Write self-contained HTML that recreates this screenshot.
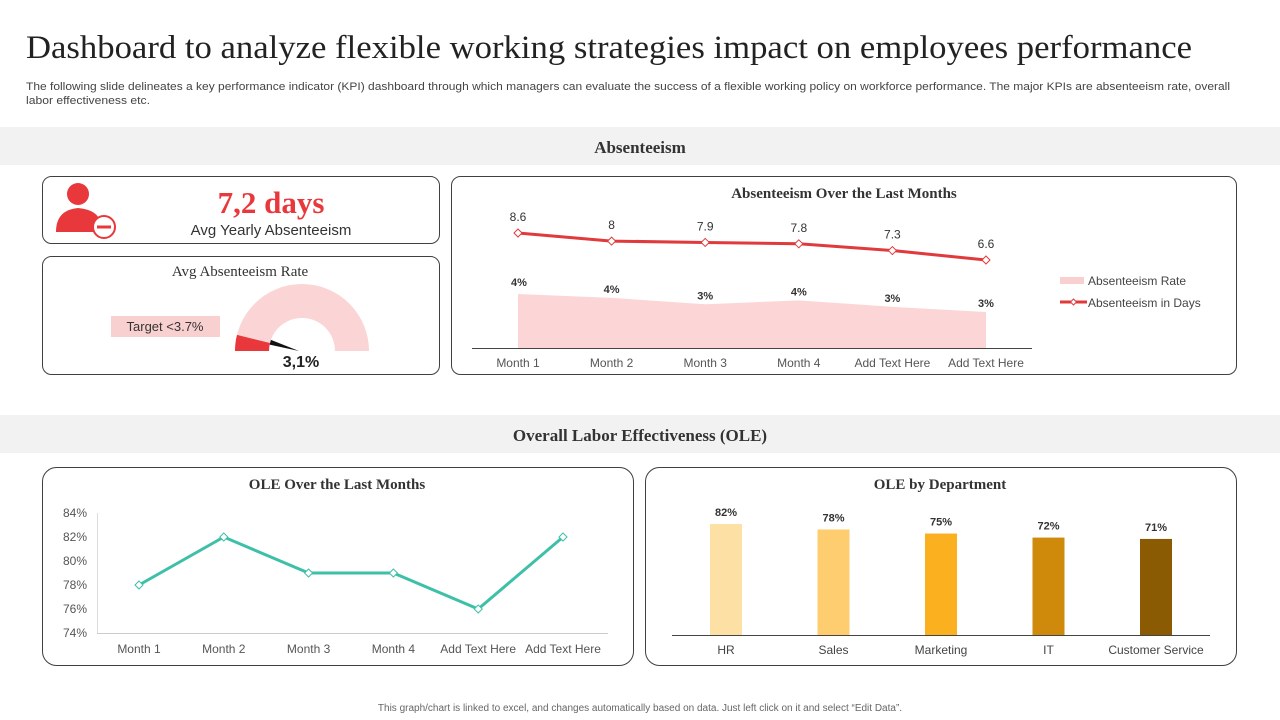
<!DOCTYPE html>
<html><head><meta charset="utf-8"><style>
body{margin:0;background:#fff;}
svg{display:block;font-family:"Liberation Sans",sans-serif;}
.serif{font-family:"Liberation Serif",serif;}
</style></head><body>
<svg id="s" width="1280" height="720" viewBox="0 0 1280 720">
<text class="serif" x="26" y="58" font-size="33" fill="#222" textLength="1166" lengthAdjust="spacingAndGlyphs">Dashboard to analyze flexible working strategies impact on employees performance</text>
<text x="26" y="90" font-size="11" fill="#444" textLength="1204" lengthAdjust="spacingAndGlyphs">The following slide delineates a key performance indicator (KPI) dashboard through which managers can evaluate the success of a flexible working policy on workforce performance. The major KPIs are absenteeism rate, overall</text>
<text x="26" y="104" font-size="11" fill="#444" textLength="124" lengthAdjust="spacingAndGlyphs">labor effectiveness etc.</text>
<rect x="0" y="127" width="1280" height="38" fill="#f2f2f2"/>
<text class="serif" x="640" y="153" font-size="17" font-weight="bold" fill="#333" text-anchor="middle">Absenteeism</text>
<rect x="0" y="415" width="1280" height="38" fill="#f2f2f2"/>
<text class="serif" x="640" y="441" font-size="17" font-weight="bold" fill="#333" text-anchor="middle">Overall Labor Effectiveness (OLE)</text>

<rect x="42.5" y="176.5" width="397" height="67" rx="9" fill="none" stroke="#404040"/>
<g fill="#e8383b">
<circle cx="78" cy="194" r="11"/>
<path d="M56 232 Q56 210 78 208 Q98 210 100 222 L100 232 Z"/>
<circle cx="104" cy="227" r="11" fill="#fff" stroke="#e8383b" stroke-width="2"/>
<rect x="97" y="225.5" width="14" height="3"/>
</g>
<text class="serif" x="271" y="213" font-size="31" font-weight="bold" fill="#e8383b" text-anchor="middle">7,2 days</text>
<text x="271" y="235" font-size="15" fill="#333" text-anchor="middle">Avg Yearly Absenteeism</text>

<rect x="42.5" y="256.5" width="397" height="118" rx="9" fill="none" stroke="#404040"/>
<text class="serif" x="240" y="276" font-size="15" fill="#333" text-anchor="middle">Avg Absenteeism  Rate</text>
<rect x="111" y="316" width="109" height="21" fill="#f9d0d0"/>
<text x="165" y="331" font-size="13" fill="#333" text-anchor="middle">Target  &lt;3.7%</text>
<g id="gauge"></g>
<text x="301" y="367" font-size="16" font-weight="bold" fill="#222" text-anchor="middle">3,1%</text>

<rect x="451.5" y="176.5" width="785" height="198" rx="9" fill="none" stroke="#404040"/>
<text class="serif" x="844" y="198" font-size="15" font-weight="bold" fill="#333" text-anchor="middle">Absenteeism Over the Last Months</text>
<g id="absChart"></g>
<rect x="1060" y="277" width="24" height="7" fill="#f9d0d0"/>
<text x="1088" y="285" font-size="12" fill="#444">Absenteeism Rate</text>
<line x1="1060" y1="302" x2="1087" y2="302" stroke="#e03a3c" stroke-width="3"/>
<path d="M1073.5 299 L1076.5 302 L1073.5 305 L1070.5 302Z" fill="#fff" stroke="#e03a3c"/>
<text x="1088" y="307" font-size="12" fill="#444">Absenteeism in Days</text>

<rect x="42.5" y="467.5" width="591" height="198" rx="14" fill="none" stroke="#404040"/>
<text class="serif" x="337" y="489" font-size="15" font-weight="bold" fill="#333" text-anchor="middle">OLE Over the Last Months</text>
<g id="oleChart"></g>

<rect x="645.5" y="467.5" width="591" height="198" rx="14" fill="none" stroke="#404040"/>
<text class="serif" x="940" y="489" font-size="15" font-weight="bold" fill="#333" text-anchor="middle">OLE by Department</text>
<g id="deptChart"></g>

<text x="640" y="711" font-size="10" fill="#666" text-anchor="middle">This graph/chart is linked to excel, and changes automatically based on data. Just left click on it and select “Edit Data”.</text>
</svg>
<script>
const absMonths=["Month 1","Month 2","Month 3","Month 4","Add Text Here","Add Text Here"];
const absRate=[4.2,3.9,3.4,3.7,3.2,2.8];
const absRateLabels=["4%","4%","3%","4%","3%","3%"];
const absDays=[8.6,8,7.9,7.8,7.3,6.6];
const oleMonths=["Month 1","Month 2","Month 3","Month 4","Add Text Here","Add Text Here"];
const oleValues=[78,82,79,79,76,82];
const oleTicks=[74,76,78,80,82,84];
const departments=["HR","Sales","Marketing","IT","Customer Service"];
const deptValues=[82,78,75,72,71];
const gaugeValue=3.1;

const NS="http://www.w3.org/2000/svg";
function mk(p,tag,a,txt){const e=document.createElementNS(NS,tag);for(const k in a)e.setAttribute(k,a[k]);if(txt!==undefined)e.textContent=txt;p.appendChild(e);return e;}

// gauge
(function(){
const g=document.getElementById('gauge');
const cx=302,cy=351,ro=67,ri=33;
function pt(r,a){return [cx-r*Math.cos(a),cy-r*Math.sin(a)];}
function arc(a0,a1){const p1=pt(ro,a0),p2=pt(ro,a1),p3=pt(ri,a1),p4=pt(ri,a0);const lg=(a1-a0)>Math.PI?1:0;
return `M${p1} A${ro} ${ro} 0 ${lg} 1 ${p2} L${p3} A${ri} ${ri} 0 ${lg} 0 ${p4}Z`;}
const frac=gaugeValue/40;
let e=mk(g,'path',{d:arc(0,Math.PI),fill:'#fbd5d5'});

const a=frac*Math.PI;
e=mk(g,'path',{d:arc(0,a),fill:'#e8383b'});

e=mk(g,'path',{d:`M${pt(ri,a+0.1)} L${pt(ri,a-0.05)} L${[cx-3,cy]} Z`,fill:'#111'});

})();

// absenteeism chart
(function(){
const g=document.getElementById('absChart');
const x=i=>518+i*93.6, base=348;
const yR=v=>base-v*12.86, yD=v=>233+(8.6-v)*13.5;
let d=`M${x(0)} ${base}`;absRate.forEach((v,i)=>d+=` L${x(i)} ${yR(v)}`);d+=` L${x(absRate.length-1)} ${base}Z`;
let e=mk(g,'path',{d,fill:'#fcd6d6'});

e=mk(g,'line',{x1:472,x2:1032,y1:348.5,y2:348.5,stroke:'#444'});

absMonths.forEach((m,i)=>{e=mk(g,'text',{x:x(i),y:367,'font-size':12,fill:'#555','text-anchor':'middle'},m);
});
absRate.forEach((v,i)=>{e=mk(g,'text',{x:x(i)+(i==0?1:0),y:yR(v)-5+(i==0?-3:0),'font-size':11,'font-weight':'bold',fill:'#333','text-anchor':'middle'},absRateLabels[i]);
});
e=mk(g,'polyline',{points:absDays.map((v,i)=>x(i)+','+yD(v)).join(' '),fill:'none',stroke:'#e03a3c','stroke-width':3});

absDays.forEach((v,i)=>{const cx=x(i),cy=yD(v);
e=mk(g,'path',{d:`M${cx} ${cy-4} L${cx+4} ${cy} L${cx} ${cy+4} L${cx-4} ${cy}Z`,fill:'#fff',stroke:'#e03a3c'});

e=mk(g,'text',{x:cx,y:cy-12,'font-size':12,fill:'#333','text-anchor':'middle'},String(v));
});
})();

// OLE months chart
(function(){
const g=document.getElementById('oleChart');
const x=i=>139+i*84.8, y=v=>633-(v-74)*12;
let e=mk(g,'line',{x1:97.5,x2:97.5,y1:513,y2:634,stroke:'#ddd'});

e=mk(g,'line',{x1:97,x2:608,y1:633.5,y2:633.5,stroke:'#ccc'});

oleTicks.forEach(t=>{e=mk(g,'text',{x:87,y:y(t)+4,'font-size':12,fill:'#555','text-anchor':'end'},t+'%');
});
oleMonths.forEach((m,i)=>{e=mk(g,'text',{x:x(i),y:653,'font-size':12,fill:'#555','text-anchor':'middle'},m);
});
e=mk(g,'polyline',{points:oleValues.map((v,i)=>x(i)+','+y(v)).join(' '),fill:'none',stroke:'#3dbfa8','stroke-width':3});

oleValues.forEach((v,i)=>{const cx=x(i),cy=y(v);
e=mk(g,'path',{d:`M${cx} ${cy-4} L${cx+4} ${cy} L${cx} ${cy+4} L${cx-4} ${cy}Z`,fill:'#fff',stroke:'#3dbfa8'});
});
})();

// dept chart
(function(){
const g=document.getElementById('deptChart');
const colors=['#fde0a3','#fdcd70','#fbb01f','#cf8a0b','#8a5b02'];
const x=i=>726+i*107.5, base=635, h=v=>v*1.353;
departments.forEach((d,i)=>{
let e=mk(g,'rect',{x:x(i)-16,y:base-h(deptValues[i]),width:32,height:h(deptValues[i]),fill:colors[i]});

e=mk(g,'text',{x:x(i),y:base-h(deptValues[i])-8,'font-size':11,'font-weight':'bold',fill:'#333','text-anchor':'middle'},deptValues[i]+'%');

e=mk(g,'text',{x:x(i),y:654,'font-size':12,fill:'#444','text-anchor':'middle'},d);
});
let e=mk(g,'line',{x1:672,x2:1210,y1:635.5,y2:635.5,stroke:'#444'});

})();
</script>
</body></html>
